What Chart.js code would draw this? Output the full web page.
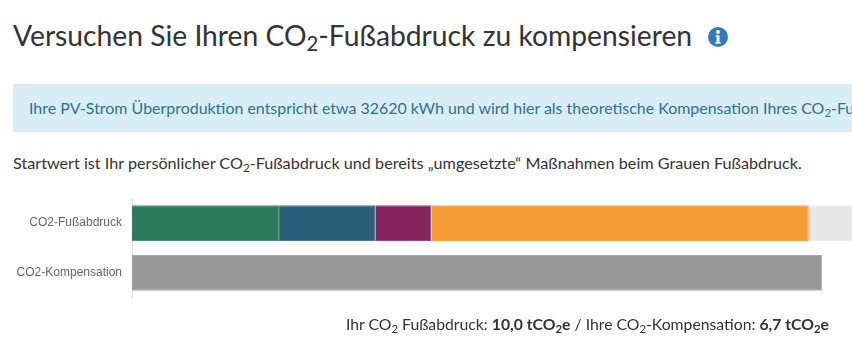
<!DOCTYPE html>
<html lang="de">
<head>
<meta charset="utf-8">
<title>CO2-Kompensation</title>
<script src="https://cdn.jsdelivr.net/npm/chart.js@4"></script>
<style>
html, body { margin: 0; padding: 0; background: #fff; overflow: hidden; }
body { width: 852px; height: 363px; position: relative; font-family: Lato, sans-serif; color: #333; }
sub { font-size: 72%; line-height: 0; vertical-align: baseline; position: relative; bottom: -0.25em; }
h2 { position: absolute; left: 13px; top: 17px; margin: 0; font-size: 28.25px; line-height: 36px; font-weight: 400; white-space: nowrap; }
#info { position: absolute; left: 708px; top: 27px; }
.alert { position: absolute; left: 13px; top: 84px; width: 839px; height: 48px; box-sizing: border-box; padding-left: 16px; background: #d9edf7; color: #31708f; font-size: 15.95px; line-height: 48px; white-space: nowrap; overflow: hidden; }
.start { position: absolute; left: 13px; top: 152px; margin: 0; font-size: 16.2px; line-height: 22px; white-space: nowrap; }
.total { position: absolute; right: 23px; top: 313px; margin: 0; font-size: 15.75px; line-height: 22px; white-space: nowrap; }
/* tick padding also pads the plot top and bottom by 17px, so the canvas is taller than the plot */
#box { position: absolute; left: 13px; top: 181px; width: 839px; height: 134px; }
</style>
</head>
<body>
<h2>Versuchen Sie Ihren CO<sub>2</sub>-Fußabdruck zu kompensieren</h2>
<svg id="info" width="20" height="20" viewBox="0 0 20 20">
  <circle cx="10" cy="10" r="10" fill="#337ab7"/>
  <circle cx="10" cy="5" r="2" fill="#fff"/>
  <path d="M7.5 8.2h4v7h1.2v1.6H7.3v-1.6h1.3v-5.4H7.5z" fill="#fff"/>
</svg>
<div class="alert">Ihre PV-Strom Überproduktion entspricht etwa 32620 kWh und wird hier als theoretische Kompensation Ihres CO<sub>2</sub>-Fußabdrucks angerechnet.</div>
<p class="start">Startwert ist Ihr persönlicher CO<sub>2</sub>-Fußabdruck und bereits „umgesetzte“ Maßnahmen beim Grauen Fußabdruck.</p>
<div id="box"><canvas id="myChart"></canvas></div>
<p class="total">Ihr CO<sub>2</sub> Fußabdruck: <b>10,0 tCO<sub>2</sub>e</b> / Ihre CO<sub>2</sub>-Kompensation: <b>6,7 tCO<sub>2</sub>e</b></p>

<script>
var categories = ["CO2-Fußabdruck", "CO2-Kompensation"];
var green = [1.43, null];
var blue = [0.94, null];
var purple = [0.54, null];
var orange = [3.67, null];
var rest = [3.42, null];
var compensation = [null, 6.71];
// the 10 t bar runs off the right side of the page in the original
var axisMax = 7;

function series(data, fill, edge) {
    return { data: data, backgroundColor: fill, borderColor: edge, borderWidth: 1 };
}

var myChart = new Chart(document.getElementById("myChart"), {
    type: 'bar',
    data: {
        labels: categories,
        datasets: [
            series(green, "#2d7b5e", "#4f9079"),
            series(blue, "#295f78", "#4a7a90"),
            series(purple, "#82235f", "#95487a"),
            series(orange, "#f49d37", "#f5a448"),
            series(rest, "#e8e8e8", "#ececec"),
            series(compensation, "#999999", "#a8a8a8")
        ]
    },
    options: {
        indexAxis: 'y',
        animation: false,
        responsive: true,
        maintainAspectRatio: false,
        layout: { padding: 0 },
        plugins: { legend: { display: false }, tooltip: { enabled: false } },
        scales: {
            x: { stacked: true, display: false, min: 0, max: axisMax },
            y: {
                stacked: true,
                afterFit: function (scale) { scale.width = 119; },
                grid: { display: false, drawTicks: false },
                border: { color: "#dddddd" },
                ticks: { color: "#666", padding: 10, font: { family: "'Liberation Sans', Arial", size: 12 } }
            }
        }
    }
});
</script>
</body>
</html>
